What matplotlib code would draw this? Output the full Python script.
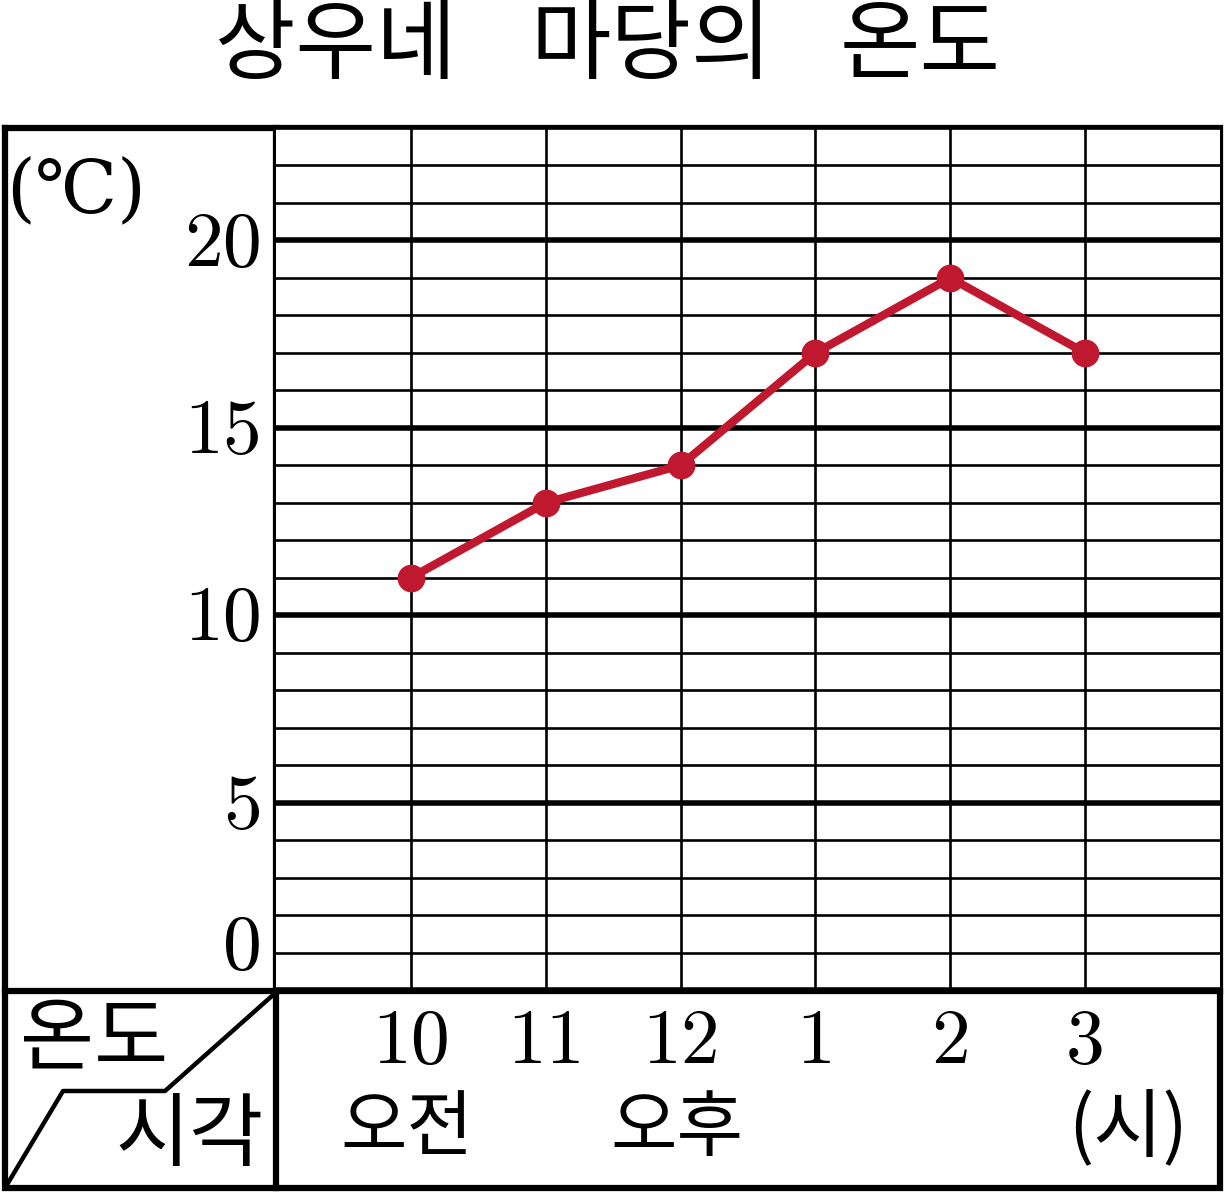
import matplotlib
matplotlib.use("Agg")
import matplotlib.pyplot as plt
import matplotlib.transforms as mtransforms

# ---- data ----
title_words = ["상우네", "마당의", "온도"]
hours = ["10", "11", "12", "1", "2", "3"]
temps = [11, 13, 14, 17, 19, 17]
y_ticks = [0, 5, 10, 15, 20]
period_labels = ["오전", "오후"]
period_pos = [1, 3]
unit_y = "(℃)"
unit_x = "(시)"
header_top = "온도"
header_bottom = "시각"

W, H = 1225, 1193
fig = plt.figure(figsize=(W / 100, H / 100), dpi=100)

KR = ["Noto Sans CJK KR", "DejaVu Sans"]
NUM = ["cmr10", "DejaVu Serif"]

# overlay axes in pixel coordinates for the table frame
ov = fig.add_axes([0, 0, 1, 1])
ov.set_xlim(0, W)
ov.set_ylim(H, 0)
ov.axis("off")

# main plot axes
L, R, T, B = 276, 1220, 128, 990
ax = fig.add_axes([L / W, (H - B) / H, (R - L) / W, (B - T) / H])
xs = list(range(1, len(hours) + 1))
ax.set_xlim(0, len(hours) + 1)
ax.set_ylim(0, 23)
ax.set_xticks([])
ax.set_yticks([])
for s in ax.spines.values():
    s.set_visible(False)

for v in range(0, 24):
    lw = 4.0 if v % 5 == 0 else 1.9
    ax.axhline(v, color="black", lw=lw, zorder=1)
for x in xs:
    ax.axvline(x, color="black", lw=1.9, zorder=1)

ax.plot(xs, temps, color="#C0182F", lw=6, marker="o", ms=19,
        solid_joinstyle="round", zorder=5, clip_on=False)

# y tick labels
trans = mtransforms.blended_transform_factory(ax.transAxes, ax.transData)
for v in y_ticks:
    if v == 0:
        ax.text(-0.015, v + 0.15, str(v), transform=trans, ha="right", va="bottom",
                fontsize=56, family=NUM, clip_on=False)
    else:
        ax.text(-0.015, v - 0.15, str(v), transform=trans, ha="right", va="center",
                fontsize=56, family=NUM, clip_on=False)

# x tick labels (below plot, in the table row)
trans_x = mtransforms.blended_transform_factory(ax.transData, fig.transFigure)
for x, lab in zip(xs, hours):
    ax.text(x, (H - 1043) / H, lab, transform=trans_x, ha="center", va="center",
            fontsize=56, family=NUM, clip_on=False)
for x, lab in zip(period_pos, period_labels):
    ax.text(x - 0.03, (H - 1130) / H, lab, transform=trans_x, ha="center", va="center",
            fontsize=52, family=KR, clip_on=False)

# table frame
frame_lw = 4.5
ov.plot([5, 1220, 1220, 5, 5], [128, 128, 1188, 1188, 128], color="black", lw=frame_lw,
        solid_joinstyle="miter")
ov.plot([276, 276], [128, 1188], color="black", lw=frame_lw)
ov.plot([5, 1220], [991, 991], color="black", lw=frame_lw)
ov.plot([273, 165, 63, 8], [995, 1091, 1091, 1183], color="black", lw=3.2)

# text
for word, x0 in zip(title_words, [215, 530, 840]):
    ov.text(x0, 47, word, ha="left", va="center", fontsize=63, family=KR)
ov.text(76, 192, unit_y, ha="center", va="center", fontsize=53,
        family=["DejaVu Serif", "Noto Sans CJK KR"])
ov.text(94, 1040, header_top, ha="center", va="center", fontsize=58, family=KR)
ov.text(190, 1137, header_bottom, ha="center", va="center", fontsize=58, family=KR)
ov.text(1128, 1130, unit_x, ha="center", va="center", fontsize=54, family=KR)

fig.savefig("out.png", dpi=100)
